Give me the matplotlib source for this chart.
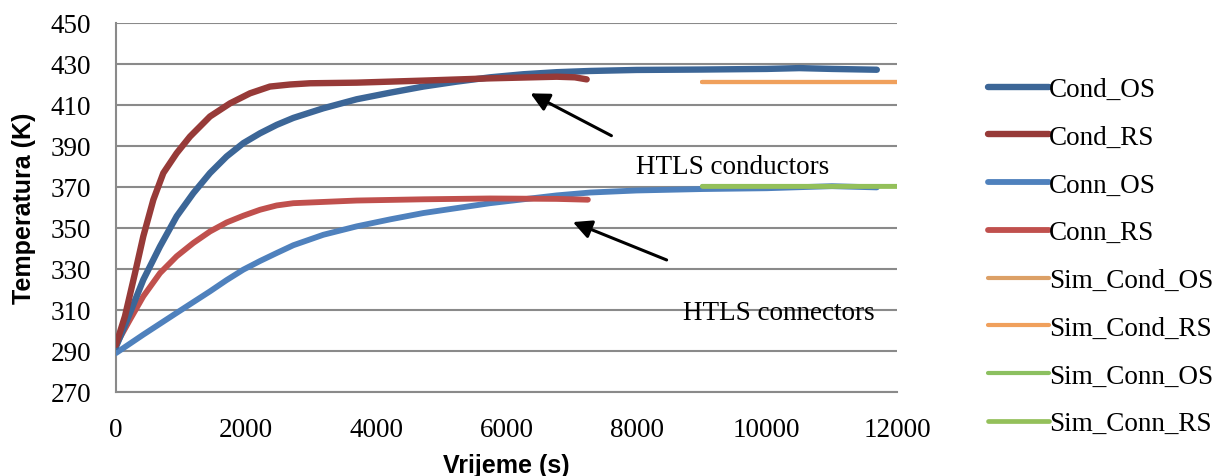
import matplotlib.pyplot as plt

# Mjerene temperature vodiča i spojnica (HTLS), vrijeme u sekundama
T_COND_OS = [0, 215, 420, 676, 932, 1188, 1444, 1700, 1957, 2213, 2469, 2725, 3186,
             3698, 4210, 4722, 5234, 5747, 6259, 6771, 7283, 8000, 9000, 10000,
             10500, 11000, 11690]
COND_OS = [292, 308.6, 324.8, 341, 355.7, 367, 376.8, 384.9, 391.4, 396.2, 400.3,
           403.7, 408.4, 412.8, 416, 419, 421.4, 423.5, 425, 426, 426.6, 427.1,
           427.3, 427.6, 428, 427.6, 427.2]

T_COND_RS = [0, 138, 292, 420, 574, 727, 932, 1137, 1444, 1752, 2059, 2366, 2674,
             2981, 3698, 4722, 5747, 6771, 7050, 7232]
COND_RS = [293, 307, 328, 346, 363.8, 376.8, 386.5, 394.6, 404.4, 410.8, 415.7, 419,
           420, 420.6, 420.9, 421.9, 423, 423.8, 423.5, 422.5]

T_CONN_OS = [0, 420, 932, 1444, 1700, 1957, 2213, 2469, 2725, 3186, 3698, 4210,
             4722, 5234, 5747, 6259, 6771, 7283, 8000, 9000, 10000, 11000, 11690]
CONN_OS = [289, 298, 308.6, 319.1, 324.6, 329.7, 333.9, 337.8, 341.6, 346.7, 350.8,
           354.2, 357.3, 359.7, 362.1, 364, 365.9, 367.3, 368.3, 369, 369.4, 370.4,
           369.8]

T_CONN_RS = [0, 215, 420, 676, 932, 1188, 1444, 1700, 1957, 2213, 2469, 2725, 3698,
             4722, 5747, 6771, 7250]
CONN_RS = [293, 305.3, 316.7, 328, 336.2, 342.7, 348.3, 352.7, 356, 358.9, 361,
           362.1, 363.4, 364, 364.4, 364.2, 363.8]

# Rezultati simulacije (stacionarno stanje)
T_SIM = [9000, 12000]
SIM_COND_OS = [421.3, 421.3]
SIM_COND_RS = [421.3, 421.3]
SIM_CONN_OS = [370.4, 370.4]
SIM_CONN_RS = [370.4, 370.4]

X_TICKS = [0, 2000, 4000, 6000, 8000, 10000, 12000]
Y_TICKS = [270, 290, 310, 330, 350, 370, 390, 410, 430, 450]

SERIF = "Liberation Serif"
SANS = "Liberation Sans"
GRID = "#8a8a8a"

fig = plt.figure(figsize=(12.29, 4.77), dpi=100)
ax = fig.add_axes([116 / 1229, 1 - 393 / 477, 781 / 1229, 369 / 477])

style = dict(solid_capstyle="round", solid_joinstyle="round")
ax.plot(T_COND_OS, COND_OS, color="#3c6697", lw=4.6, label="Cond_OS", zorder=4, **style)
ax.plot(T_COND_RS, COND_RS, color="#973a38", lw=4.6, label="Cond_RS", zorder=4, **style)
ax.plot(T_CONN_OS, CONN_OS, color="#4f81bd", lw=4.2, label="Conn_OS", zorder=3, **style)
ax.plot(T_CONN_RS, CONN_RS, color="#c0504d", lw=4.2, label="Conn_RS", zorder=3, **style)
ax.plot(T_SIM, SIM_COND_OS, color="#dca066", lw=3.0, label="Sim_Cond_OS", zorder=3, **style)
ax.plot(T_SIM, SIM_COND_RS, color="#f0a05c", lw=3.0, label="Sim_Cond_RS", zorder=3, **style)
ax.plot(T_SIM, SIM_CONN_OS, color="#8cc060", lw=3.0, label="Sim_Conn_OS", zorder=5, **style)
ax.plot(T_SIM, SIM_CONN_RS, color="#94c05a", lw=3.4, label="Sim_Conn_RS", zorder=5, **style)

ax.set_xlim(0, 12000)
ax.set_ylim(270, 450)
ax.set_xticks(X_TICKS)
ax.set_yticks(Y_TICKS)
ax.set_xticklabels([str(v) for v in X_TICKS], family=SERIF, fontsize=19.5)
ax.set_yticklabels([str(v) for v in Y_TICKS], family=SERIF, fontsize=19.5)
ax.tick_params(length=0, pad=18)

ax.grid(axis="y", color=GRID, lw=1.5)
ax.set_axisbelow(True)
for side in ("top", "right"):
    ax.spines[side].set_visible(False)
for side in ("left", "bottom"):
    ax.spines[side].set_color(GRID)
    ax.spines[side].set_linewidth(1.5)

ax.set_xlabel("Vrijeme (s)", family=SANS, fontweight="bold", fontsize=18, labelpad=8)
ax.set_ylabel("Temperatura (K)", family=SANS, fontweight="bold", fontsize=18, labelpad=10)

arrow = dict(arrowstyle="-|>", color="black", lw=2.2, mutation_scale=28)
ax.annotate("", xy=(6330, 416.3), xytext=(7650, 394.4), arrowprops=arrow)
ax.annotate("", xy=(6980, 353.4), xytext=(8500, 333.9), arrowprops=arrow)
ax.text(7990, 380.2, "HTLS conductors", family=SERIF, fontsize=19.5, va="center", ha="left")
ax.text(8710, 309, "HTLS connectors", family=SERIF, fontsize=19.5, va="center", ha="left")

leg = fig.legend(loc="upper left", bbox_to_anchor=(988 / 1229, 1 - 78 / 477),
                 frameon=False, prop={"family": SERIF, "size": 19.5},
                 handlelength=2.25, handletextpad=0.0, labelspacing=0.84,
                 borderpad=0, borderaxespad=0)

fig.savefig("out.png", dpi=100)
